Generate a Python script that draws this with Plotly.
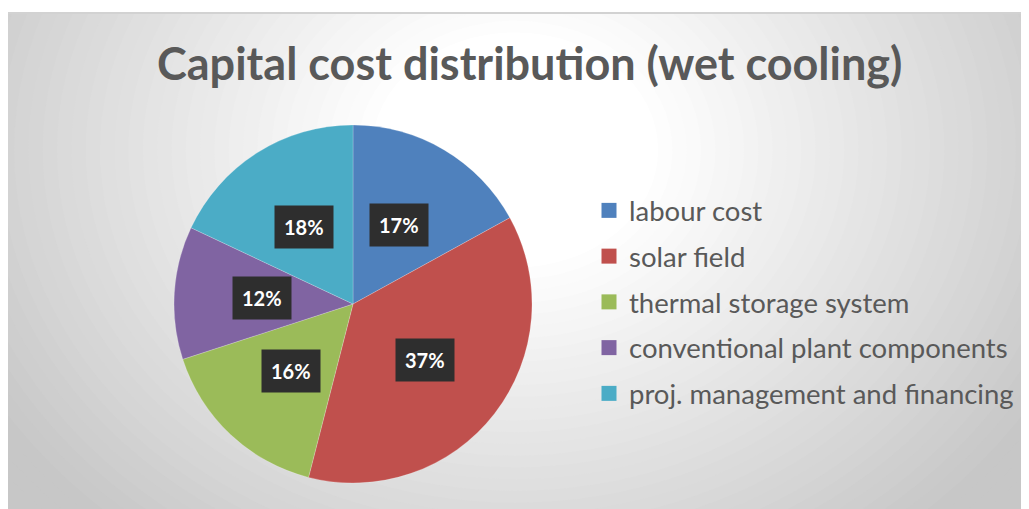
import math
import plotly.graph_objects as go

# ---- data ----
categories = ["labour cost", "solar field", "thermal storage system",
              "conventional plant components", "proj. management and financing"]
values = [17, 37, 16, 12, 18]
colors = ["#4F81BD", "#C0504D", "#9BBB59", "#8064A2", "#4BACC6"]
title_text = "Capital cost distribution (wet cooling)"

W, H = 1029, 509
OFF = 8  # page body margin

# pie geometry (page pixels)
CX, CY, R = 353, 304, 179

def px_x(x):
    return (x - OFF) / W

def px_y(y):  # y from top in page px -> paper
    return 1 - (y - OFF) / H

fig = go.Figure()

fig.add_trace(go.Pie(
    labels=categories, values=values, sort=False, direction="clockwise", rotation=0,
    marker=dict(colors=colors, line=dict(color="rgba(255,255,255,0.35)", width=0.6)),
    textinfo="none", showlegend=False,
    domain=dict(x=[px_x(CX - R), px_x(CX + R)], y=[px_y(CY + R), px_y(CY - R)]),
))

# legend entries via dummy traces (to control row spacing)
for c, col in zip(categories, colors):
    fig.add_trace(go.Scatter(
        x=[None], y=[None], mode="markers", name=c, legendgroup=c,
        marker=dict(symbol="square", size=15, color=col),
    ))

# percentage labels with dark boxes
total = sum(values)
cum = 0
annotations = []
for v in values:
    mid = (cum + v / 2) / total * 2 * math.pi
    cum += v
    r = 0.51 * R
    x = CX + r * math.sin(mid)
    y = CY - r * math.cos(mid)
    annotations.append(dict(
        x=px_x(x), y=px_y(y), xref="paper", yref="paper", showarrow=False,
        text="<b>%d%%</b>" % round(v / total * 100),
        font=dict(family="Lato", size=20, color="white"),
        bgcolor="#2e2e2e", borderpad=9, xanchor="center", yanchor="middle",
    ))

annotations.append(dict(
    x=px_x(529), y=px_y(63), xref="paper", yref="paper", showarrow=False,
    text=title_text, font=dict(family="Lato", size=45, color="#595959", weight=700),
    xanchor="center", yanchor="middle",
))

# radial-gradient background built from concentric ellipses
shapes = []
GX, GY, A, B = 515, 150, 560, 460
def shade(d):
    t = min(max((d - 0.25) / 0.85, 0), 1)
    g = int(round(255 - 56 * t))
    return "rgb(%d,%d,%d)" % (g, g, g)

left, top = 8, 12
shapes.append(dict(type="rect", xref="paper", yref="paper", x0=px_x(left), x1=1.05,
                   y0=-0.05, y1=px_y(top), fillcolor=shade(2), line=dict(width=0), layer="below"))
N = 45
dmax = 1.15
for k in range(N, 0, -1):
    d = dmax * k / N
    shapes.append(dict(type="circle", xref="paper", yref="paper",
                       x0=px_x(GX - A * d), x1=px_x(GX + A * d),
                       y0=px_y(GY + B * d), y1=px_y(GY - B * d),
                       fillcolor=shade(d), line=dict(width=0), layer="below"))
# white margin above chart area
shapes.append(dict(type="rect", xref="paper", yref="paper", x0=-0.05, x1=1.05,
                   y0=px_y(top), y1=1.2, fillcolor="white", line=dict(width=0), layer="below"))
shapes.append(dict(type="line", xref="paper", yref="paper", x0=0, x1=1.05,
                   y0=px_y(top + 1), y1=px_y(top + 1),
                   line=dict(width=2, color="#d2d2d2"), layer="below"))

fig.update_layout(
    width=W, height=H, margin=dict(l=0, r=0, t=0, b=0),
    paper_bgcolor="white", plot_bgcolor="rgba(0,0,0,0)",
    xaxis=dict(visible=False), yaxis=dict(visible=False),
    shapes=shapes, annotations=annotations,
    showlegend=True,
    legend=dict(x=px_x(589), y=px_y(186), xanchor="left", yanchor="top",
                bgcolor="rgba(0,0,0,0)", tracegroupgap=7,
                font=dict(family="Lato", size=27.5, color="#595959"),
                itemclick=False, itemdoubleclick=False),
)

fig.write_html("out.html")
